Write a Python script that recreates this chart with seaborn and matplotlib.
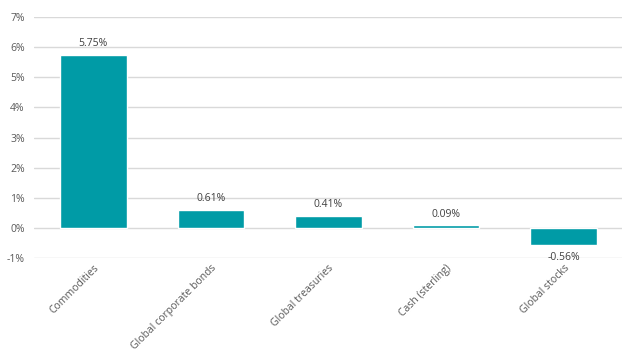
import matplotlib
matplotlib.use("Agg")
import matplotlib.pyplot as plt
import seaborn as sns
import pandas as pd
from matplotlib.ticker import FuncFormatter

categories = ["Commodities", "Global corporate bonds", "Global treasuries", "Cash (sterling)", "Global stocks"]
values = [5.75, 0.61, 0.41, 0.09, -0.56]

sns.set_theme(style="white")
plt.rcParams['font.family'] = ['Open Sans', 'DejaVu Sans']

df = pd.DataFrame({"cat": categories, "val": values})
fig = plt.figure(figsize=(6.35, 3.64), dpi=100)
ax = fig.add_axes([0.0543, 0.291, 0.926, 0.662])
sns.barplot(data=df, x="cat", y="val", color="#009BA6", width=0.567, saturation=1, ax=ax, zorder=3)

ax.set_ylim(-1, 7)
ax.set_yticks(range(-1, 8))
ax.yaxis.set_major_formatter(FuncFormatter(lambda v, p: f"{int(v)}%"))
ax.grid(axis="y", color="#d9d9d9", linewidth=1, zorder=0)
ax.set_axisbelow(True)
for s in ax.spines.values():
    s.set_visible(False)
ax.set_xlabel("")
ax.set_ylabel("")
ax.tick_params(axis="both", length=0, colors="#595959", labelsize=7.5, pad=7)
ax.tick_params(axis="x", pad=3)
for lab in ax.get_xticklabels():
    lab.set_rotation(45)
    lab.set_ha("right")
    lab.set_rotation_mode("anchor")

for i, v in enumerate(values):
    if v >= 0:
        ax.annotate(f"{v:.2f}%", (i, v), xytext=(0, 4), textcoords="offset points",
                    ha="center", va="bottom", fontsize=7.5, color="#404040")
    else:
        ax.annotate(f"{v:.2f}%", (i, v), xytext=(0, -5), textcoords="offset points",
                    ha="center", va="top", fontsize=7.5, color="#404040")

fig.savefig("out.png", dpi=100)
